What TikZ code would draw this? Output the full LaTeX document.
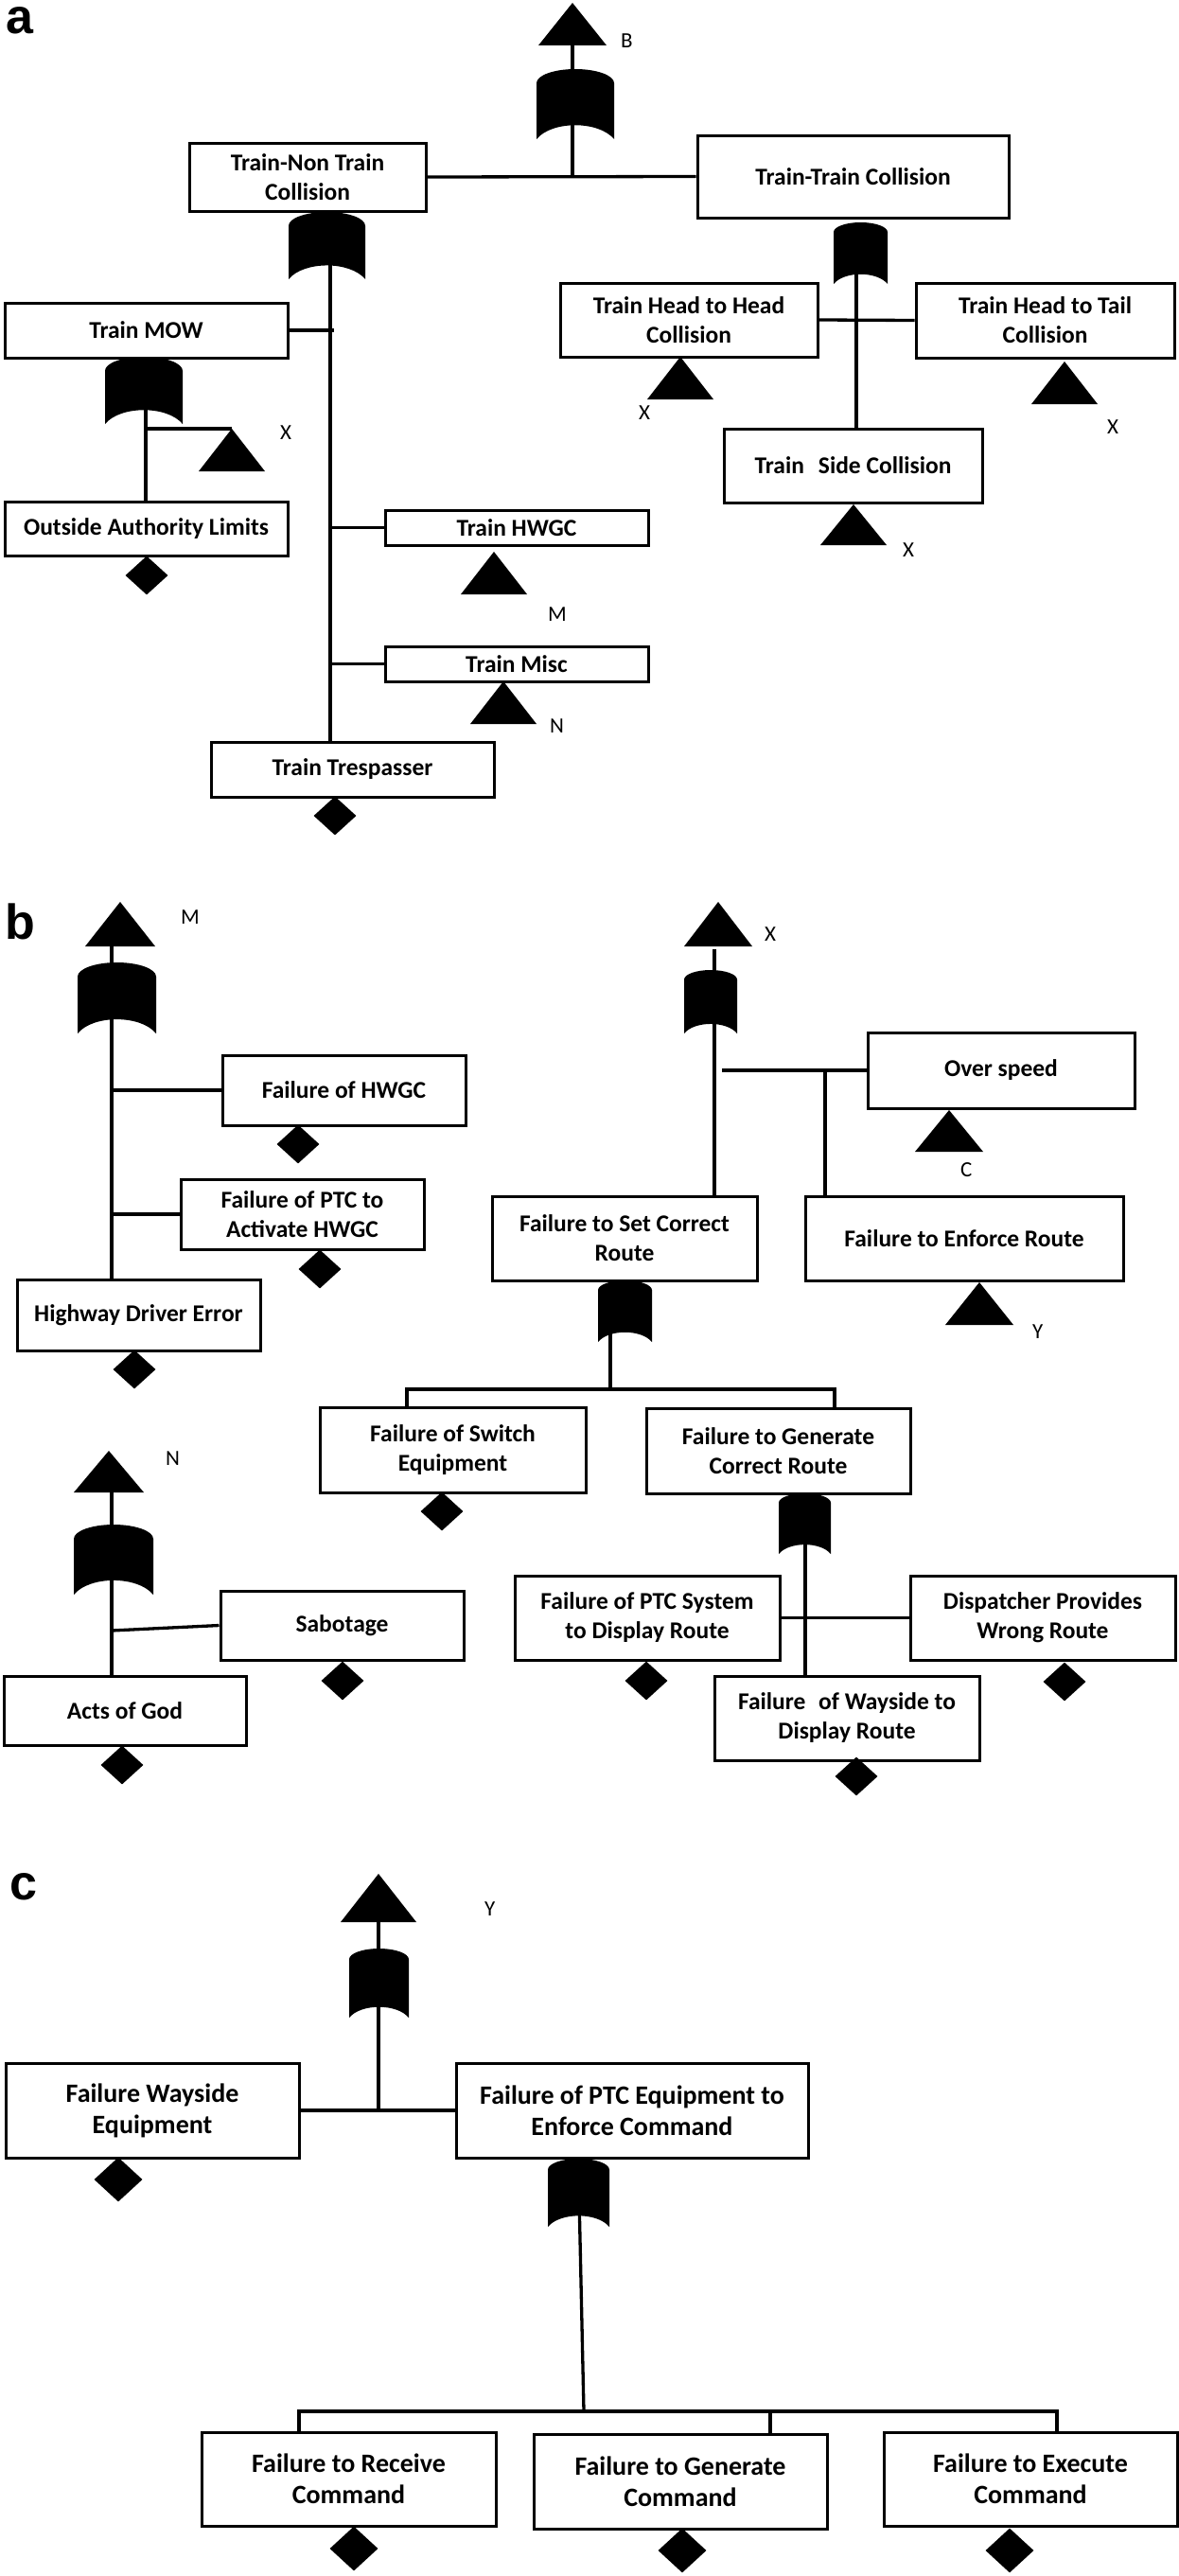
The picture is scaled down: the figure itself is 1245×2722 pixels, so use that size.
\documentclass[tikz,border=0pt]{standalone}
\usepackage{fontspec}
\setmainfont{Carlito}
\newfontfamily\panelfont{Liberation Sans}
\usetikzlibrary{shapes.geometric}

\tikzset{
 box/.style={draw, line width=3pt, fill=white, align=center, inner sep=2pt, font=\bfseries\fontsize{25.5}{31}\selectfont},
 boxc/.style={box, font=\bfseries\fontsize{28}{33}\selectfont},
 conn/.style={line width=3.3pt},
 evt/.style={diamond, fill=black, inner sep=0pt, minimum width=45pt, minimum height=41pt},
 evtc/.style={evt, minimum width=51pt, minimum height=47pt},
 lbl/.style={font=\fontsize{23}{23}\selectfont, anchor=base west, inner sep=0pt},
 panel/.style={font=\panelfont\bfseries\fontsize{52}{52}\selectfont, anchor=base west, inner sep=0pt},
}

% box: [style]{name}{xl}{yt}{xr}{yb}{text}
\newcommand\bx[7][box]{\node[#1, minimum width={(#5-#3)*1pt}, minimum height={(#6-#4)*1pt}] (#2) at ({(#3+#5)/2},{(#4+#6)/2}) {#7};}
% transfer triangle: {name}{apex x}{apex y}{half width}{height}
\newcommand\xfer[5]{\coordinate (#1) at (#2,#3);\coordinate (#1b) at (#2,{#3+#5});
 \fill (#1) -- ++({-#4},#5) -- ++({2*#4},0) -- cycle;}
% or gate: {name}{xl}{xr}{yt}{yb}
\newcommand\orgate[5]{%
 \pgfmathsetmacro\gxc{(#2+#3)/2}%
 \pgfmathsetmacro\ghw{(#3-#2)/2}%
 \pgfmathsetmacro\gd{0.36*\ghw}%
 \pgfmathsetmacro\gc{0.36*\ghw}%
 \coordinate (#1) at (\gxc,#4);
 \fill (#2,#5) -- (#2,{#4+\gd}) .. controls (#2,{#4+0.45*\gd}) and ({\gxc-0.55*\ghw},#4) .. (\gxc,#4)
   .. controls ({\gxc+0.55*\ghw},#4) and (#3,{#4+0.45*\gd}) .. (#3,{#4+\gd}) -- (#3,#5)
   .. controls ({#3-0.4*\ghw},{#5-1.33*\gc}) and ({#2+0.4*\ghw},{#5-1.33*\gc}) .. (#2,#5) -- cycle;}

\begin{document}
\begin{tikzpicture}[x=1pt,y=-1pt]
\fill[white] (0,0) rectangle (1245,2722);
\useasboundingbox (0,0) rectangle (1245,2722);

% ================= panel a =================
\node[panel] (pa) at (6,36) {a};
\bx{tnt}{200}{151}{450}{223}{Train-Non Train\\Collision}
\bx{tt}{737}{143}{1066}{230}{Train-Train Collision}
\bx{h2h}{592}{299}{864}{377}{Train Head to Head\\Collision}
\bx{h2t}{968}{299}{1241}{378}{Train Head to Tail\\Collision}
\bx{side}{765}{453}{1038}{531}{Train\hspace{15pt}Side Collision}
\bx{mow}{5}{320}{304}{378}{Train MOW}
\bx{oal}{5}{530}{304}{587}{Outside Authority Limits}
\bx{hwgc}{407}{539}{685}{576}{Train HWGC}
\bx{misc}{407}{683}{685}{720}{Train Misc}
\bx{tresp}{223}{784}{522}{842}{Train Trespasser}

\coordinate (v1t) at (349,260);
\coordinate (v3t) at (905,270);
\coordinate (v2t) at (154,420);
\coordinate (j2) at (154,453);
\xfer{tB}{605}{3}{36}{45}
\draw[conn] (tnt.east) -- (tt.west);
\draw[conn] (tBb) -- (tBb |- tnt.east);
\draw[conn] (v1t) -- (v1t |- tresp.north);
\draw[conn] (mow.east) -- ([xshift=4pt]mow.east -| v1t);
\draw[conn] (hwgc.west) -- (hwgc.west -| v1t);
\draw[conn] (misc.west) -- (misc.west -| v1t);
\draw[conn] (v3t) -- (v3t |- side.north);
\draw[conn] (h2h.east) -- (h2t.west);
\draw[conn] (v2t) -- (v2t |- oal.north);
\xfer{tX1}{245}{453}{35}{45}
\draw[conn] (j2) -- (tX1);

\orgate{g0}{567}{649}{73}{147}
\orgate{g1}{305}{386}{224}{295}
\orgate{g3}{881}{938}{235}{300}
\orgate{g2}{111}{193}{377}{448}

\xfer{tX2}{719}{377}{35}{45}
\xfer{tX3}{1125}{382}{35}{45}
\xfer{tX4}{902}{533}{35}{43}
\xfer{tM1}{522}{583}{35}{45}
\xfer{tN1}{532}{720}{35}{45}
\node[evt] (d1) at (155,608) {};
\node[evt] (d2) at (354,862) {};

\node[lbl] (lB) at (656,51) {B};
\node[lbl] (lX1) at (296,464) {X};
\node[lbl] (lX2) at (675,443) {X};
\node[lbl] (lX3) at (1170,458) {X};
\node[lbl] (lX4) at (954,588) {X};
\node[lbl] (lM1) at (579,656) {M};
\node[lbl] (lN1) at (581,774) {N};

% ================= panel b =================
\node[panel] (pb) at (5,992) {b};
\bx{fh}{235}{1115}{492}{1189}{Failure of HWGC}
\bx{fptc}{191}{1246}{448}{1320}{Failure of PTC to\\Activate HWGC}
\bx{hde}{18}{1352}{275}{1427}{Highway Driver Error}
\bx{os}{917}{1091}{1199}{1171}{Over speed}
\bx{fsc}{520}{1264}{800}{1353}{Failure to Set Correct\\Route}
\bx{fer}{851}{1264}{1187}{1353}{Failure to Enforce Route}
\bx{sw}{338}{1487}{619}{1577}{Failure of Switch\\Equipment}
\bx{gcr}{683}{1488}{962}{1578}{Failure to Generate\\Correct Route}
\bx{ptcs}{544}{1665}{824}{1754}{Failure of PTC System\\to Display Route}
\bx{dpw}{962}{1665}{1242}{1754}{Dispatcher Provides\\Wrong Route}
\bx{fwd}{755}{1771}{1035}{1860}{Failure\hspace{8pt} of Wayside to\\Display Route}
\bx{sab}{233}{1681}{490}{1754}{Sabotage}
\bx{aog}{4}{1771}{260}{1844}{Acts of God}

\coordinate (vMt) at (118,1000);
\coordinate (vXt) at (755,1003);
\coordinate (jo) at (763,1131);
\coordinate (jo2) at (872,1131);
\coordinate (vS) at (645,1385);
\coordinate (jL) at (430,1468);
\coordinate (jR) at (882,1468);
\coordinate (vG) at (851,1610);
\coordinate (vN) at (118,1577);
\coordinate (jN) at (118,1723);

\draw[conn] (vMt) -- (vMt |- hde.north);
\draw[conn] (fh.west) -- (fh.west -| vMt);
\draw[conn] (fptc.west) -- (fptc.west -| vMt);
\draw[conn] (vXt) -- (vXt |- fsc.north);
\draw[conn] (jo) -- (os.west);
\draw[conn] (jo2) -- (jo2 |- fer.north);
\draw[conn] (vS) -- (vS |- jL);
\draw[conn] (jL |- sw.north) -- (jL) -- (jR) -- (jR |- gcr.north);
\draw[conn] (vG) -- (vG |- fwd.north);
\draw[conn] (ptcs.east) -- (dpw.west);
\draw[conn] (vN) -- (vN |- aog.north);
\draw[conn] (sab.west) -- (jN);

\xfer{tM}{127}{953}{37}{47}
\xfer{tX}{759}{953}{36}{47}
\xfer{tN}{115}{1533}{37}{44}
\orgate{gM}{82}{165}{1017}{1092}
\orgate{gX}{723}{779}{1025}{1092}
\orgate{gS}{632}{689}{1353}{1418}
\orgate{gG}{823}{878}{1578}{1642}
\orgate{gN}{78}{162}{1611}{1685}

\xfer{tC}{1003}{1173}{36}{44}
\xfer{tY1}{1035}{1355}{36}{45}

\node[evt] (d3) at (315,1209) {};
\node[evt] (d4) at (338,1341) {};
\node[evt] (d5) at (142,1447) {};
\node[evt] (d6) at (467,1597) {};
\node[evt] (d7) at (683,1776) {};
\node[evt] (d8) at (1125,1777) {};
\node[evt] (d9) at (905,1877) {};
\node[evt] (d10) at (362,1776) {};
\node[evt] (d11) at (129,1865) {};

\node[lbl] (lM) at (191,976) {M};
\node[lbl] (lX) at (808,994) {X};
\node[lbl] (lC) at (1015,1243) {C};
\node[lbl] (lY1) at (1091,1414) {Y};
\node[lbl] (lN) at (175,1548) {N};

% ================= panel c =================
\node[panel] (pc) at (10,2007) {c};
\bx[boxc]{fwe}{6}{2180}{316}{2280}{Failure Wayside\\Equipment}
\bx[boxc]{fpe}{482}{2180}{854}{2280}{Failure of PTC Equipment to\\Enforce Command}
\bx[boxc]{frc}{213}{2570}{524}{2669}{Failure to Receive\\Command}
\bx[boxc]{fgc}{564}{2572}{874}{2672}{Failure to Generate\\Command}
\bx[boxc]{fec}{934}{2570}{1244}{2669}{Failure to Execute\\Command}

\coordinate (vY) at (400,2031);
\coordinate (vP) at (612,2320);
\coordinate (jP) at (617,2548);
\coordinate (jc1) at (316,2548);
\coordinate (jc2) at (814,2548);
\coordinate (jc3) at (1117,2548);
\draw[conn] (vY) -- (vY |- fwe.east);
\draw[conn] (fwe.east) -- (fpe.west);
\draw[conn] (vP) -- (jP);
\draw[conn] (jc1 |- frc.north) -- (jc1) -- (jc3) -- (jc3 |- fec.north);
\draw[conn] (jc2) -- (jc2 |- fgc.north);

\xfer{tY}{400}{1980}{40}{51}
\orgate{gY}{369}{432}{2059}{2132}
\orgate{gP}{579}{644}{2281}{2353}

\node[evtc] (d12) at (125,2303) {};
\node[evtc] (d13) at (374,2693) {};
\node[evtc] (d14) at (721,2695) {};
\node[evtc] (d15) at (1067,2695) {};

\node[lbl] (lY) at (512,2024) {Y};
\end{tikzpicture}
\end{document}
